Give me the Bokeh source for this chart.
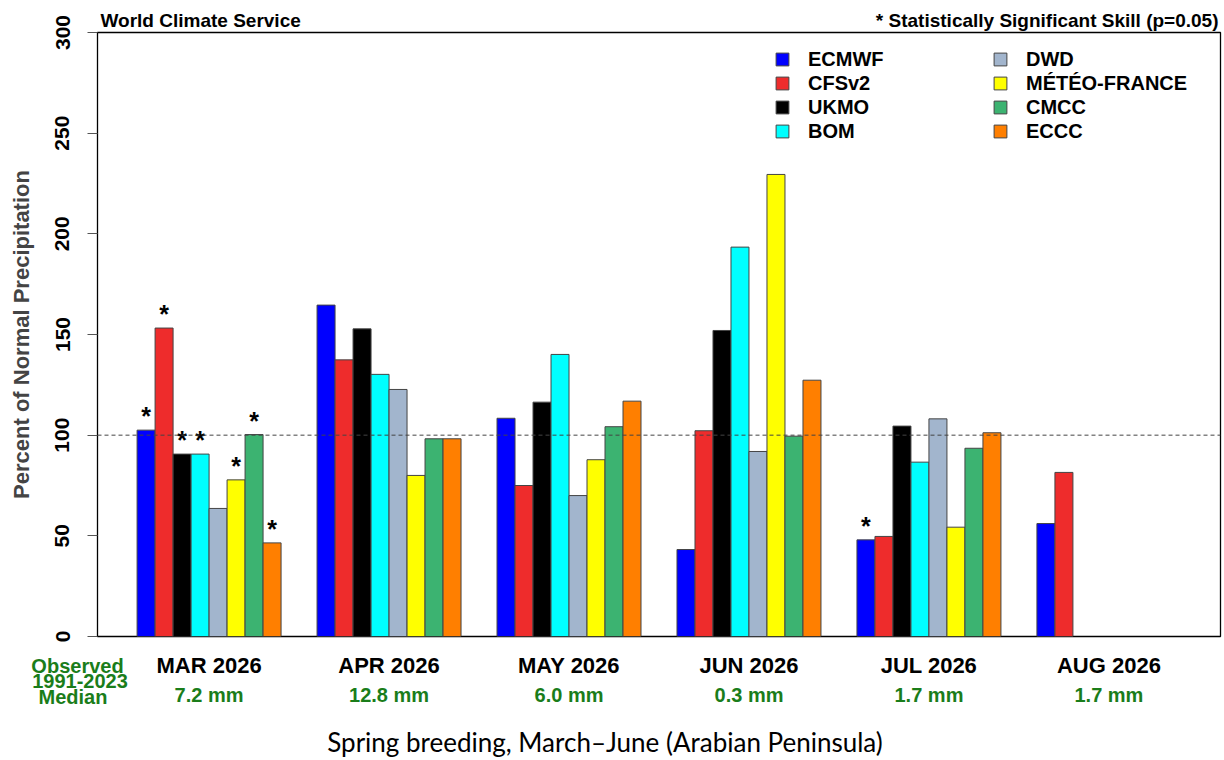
from bokeh.plotting import figure
from bokeh.models import (ColumnDataSource, Range1d, FixedTicker, LinearAxis, Span,
                          Legend, LegendItem)
from bokeh.core.properties import value
from bokeh.embed import file_html
from bokeh.resources import INLINE

months = ["MAR 2026", "APR 2026", "MAY 2026", "JUN 2026", "JUL 2026", "AUG 2026"]
medians = ["7.2 mm", "12.8 mm", "6.0 mm", "0.3 mm", "1.7 mm", "1.7 mm"]
models = ["ECMWF", "CFSv2", "UKMO", "BOM", "DWD", "MÉTÉO-FRANCE", "CMCC", "ECCC"]
colors = ["#0000FF", "#EE2C2C", "#000000", "#00FFFF", "#A2B5CD", "#FFFF00", "#3CB371", "#FF7F00"]

ecmwf = [102.5, 164.6, 108.4, 43.2, 48.0, 56.1]
cfsv2 = [153.2, 137.4, 75.0, 102.2, 49.7, 81.5]
ukmo = [90.6, 152.8, 116.4, 152.0, 104.5, None]
bom = [90.6, 130.2, 140.1, 193.4, 86.6, None]
dwd = [63.6, 122.7, 70.0, 91.9, 108.1, None]
meteo = [77.8, 80.0, 87.8, 229.5, 54.3, None]
cmcc = [100.3, 98.2, 104.2, 99.5, 93.5, None]
eccc = [46.5, 98.2, 116.9, 127.3, 101.2, None]

sig_ecmwf = [True, False, False, False, True, False]
sig_cfsv2 = [True, False, False, False, False, False]
sig_ukmo = [True, False, False, False, False, False]
sig_bom = [True, False, False, False, False, False]
sig_dwd = [False, False, False, False, False, False]
sig_meteo = [True, False, False, False, False, False]
sig_cmcc = [True, False, False, False, False, False]
sig_eccc = [True, False, False, False, False, False]

series = [ecmwf, cfsv2, ukmo, bom, dwd, meteo, cmcc, eccc]
sigs = [sig_ecmwf, sig_cfsv2, sig_ukmo, sig_bom, sig_dwd, sig_meteo, sig_cmcc, sig_eccc]

FONT = "Liberation Sans"
GREEN = "#1a7d1a"
GROUP = 10
NB = len(models)

X0, X1 = -2.2, 60.2
Y0, Y1 = 0, 300
W, H = 1222, 758
ML, MR, MT, MB = 97, 2, 32, 122

p = figure(width=W, height=H, output_backend="svg", toolbar_location=None,
           x_range=Range1d(X0, X1), y_range=Range1d(Y0, Y1),
           min_border_left=ML, min_border_right=MR, min_border_top=MT, min_border_bottom=MB)
p.grid.visible = False
p.outline_line_color = "black"
p.outline_line_width = 1.3
p.background_fill_color = "white"
p.border_fill_color = "white"

renderers = []
star_x, star_y = [], []
for i, (name, vals, col, sg) in enumerate(zip(models, series, colors, sigs)):
    xs, tops = [], []
    for g, v in enumerate(vals):
        if v is None:
            continue
        xs.append(g * GROUP + i + 0.5)
        tops.append(v)
        if sg[g]:
            star_x.append(g * GROUP + i + 0.5)
            star_y.append(v)
    src = ColumnDataSource(dict(x=xs, top=tops))
    r = p.vbar(x="x", top="top", bottom=0, width=1, source=src, fill_color=col,
               line_color="#444444", line_width=1)
    renderers.append(r)

p.add_layout(Span(location=100, dimension="width", line_color="#444444",
                  line_dash="4 3", line_width=1))

p.text(x=star_x, y=star_y, text=["*"] * len(star_x), text_align="center",
       text_baseline="bottom", text_font=value(FONT), text_font_style="bold",
       text_font_size="25px", text_color="black", y_offset=0)

# y axis
yax = p.yaxis[0]
yax.ticker = FixedTicker(ticks=[0, 50, 100, 150, 200, 250, 300])
yax.minor_tick_line_color = None
yax.major_tick_out = 10
yax.major_tick_in = 0
yax.major_tick_line_color = "#555555"
yax.axis_line_color = "black"
yax.major_label_orientation = "vertical"
yax.major_label_text_font = FONT
yax.major_label_text_font_style = "bold"
yax.major_label_text_font_size = "21px"
yax.major_label_text_color = "black"
yax.major_label_standoff = 18
yax.axis_label = "Percent of Normal Precipitation"
yax.axis_label_text_font = FONT
yax.axis_label_text_font_style = "bold"
yax.axis_label_text_font_size = "22px"
yax.axis_label_standoff = 19

centers = [g * GROUP + NB / 2 for g in range(len(months))]

xax = p.xaxis[0]
xax.ticker = FixedTicker(ticks=centers)
xax.major_label_overrides = {c: m for c, m in zip(centers, months)}
xax.axis_line_color = None
xax.major_tick_line_color = None
xax.minor_tick_line_color = None
xax.major_tick_out = 0
xax.major_tick_in = 0
xax.major_label_standoff = 16
xax.major_label_text_font = FONT
xax.major_label_text_font_style = "bold"
xax.major_label_text_font_size = "22px"
xax.major_label_text_color = "black"

xax2 = LinearAxis(ticker=FixedTicker(ticks=centers),
                  major_label_overrides={c: m for c, m in zip(centers, medians)})
xax2.axis_line_color = None
xax2.major_tick_line_color = None
xax2.minor_tick_line_color = None
xax2.major_tick_out = 0
xax2.major_tick_in = 0
xax2.major_label_standoff = 3
xax2.major_label_text_font = FONT
xax2.major_label_text_font_style = "bold"
xax2.major_label_text_font_size = "20px"
xax2.major_label_text_color = GREEN
p.add_layout(xax2, "below")

# legends
items1 = [LegendItem(label=models[i], renderers=[renderers[i]]) for i in range(4)]
items2 = [LegendItem(label=models[i], renderers=[renderers[i]]) for i in range(4, 8)]
for items, loc in ((items1, (677, 493)), (items2, (895, 493))):
    lg = Legend(items=items, location=loc, orientation="vertical",
                background_fill_alpha=0, border_line_color=None, padding=0, margin=0,
                spacing=0, label_height=24, glyph_height=16, glyph_width=16,
                label_standoff=18, label_text_font=FONT, label_text_font_style="bold",
                label_text_font_size="20px", label_text_color="black")
    p.add_layout(lg)

# free texts outside the plot box, placed by page pixel through the figure's scales
fw = W - ML - MR
fh = H - MT - MB
def dx(px):
    return X0 + (px - ML) * (X1 - X0) / fw
def dy(py):
    return Y0 + (MT + fh - py) * (Y1 - Y0) / fh

def free_text(text, px, py, size, color="black", style="bold", align="left", font=FONT):
    p.text(x=[dx(px)], y=[dy(py)], text=[text], text_align=align, text_baseline="middle",
           text_font=value(font), text_font_style=style, text_font_size=size,
           text_color=color, level="overlay")

free_text("World Climate Service", 100, 19.5, "19px")
free_text("* Statistically Significant Skill (p=0.05)", 1218, 19.5, "19px", align="right")
free_text("Observed", 77, 665, "20px", color=GREEN, align="center")
free_text("1991-2023", 79.5, 680.5, "20px", color=GREEN, align="center")
free_text("Median", 72.5, 696, "20px", color=GREEN, align="center")
free_text("Spring breeding, March\u2013June (Arabian Peninsula)", 604.5, 741, "26px",
          style="normal", align="center", font="Lato")

open("out.html", "w").write(file_html(p, INLINE))
